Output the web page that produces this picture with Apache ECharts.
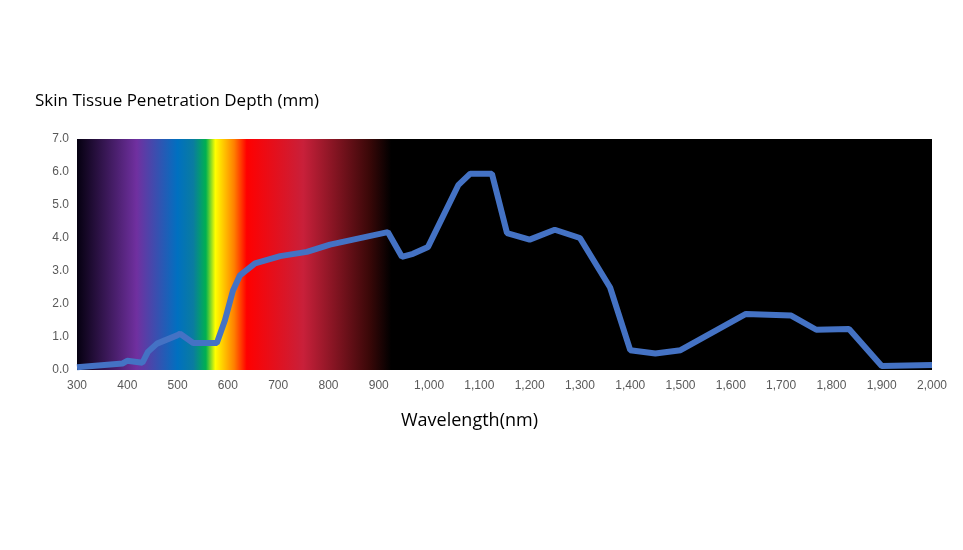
<!DOCTYPE html>
<html><head><meta charset="utf-8">
<script src="https://cdn.jsdelivr.net/npm/echarts@6/dist/echarts.min.js"></script>
<style>html,body{margin:0;padding:0;background:#fff}#c{width:963px;height:550px}</style>
</head><body><div id="c"></div>
<script>
const wavelengths = [300,391,400,430,441,459,499,505,531,578,594,610,624,654,704,757,803,918,946,968,998,1058,1082,1125,1155,1200,1250,1300,1360,1400,1450,1500,1630,1720,1770,1835,1900,2000];
const depths = [0.08,0.2,0.28,0.22,0.55,0.8,1.05,1.1,0.82,0.82,1.5,2.4,2.87,3.23,3.45,3.58,3.8,4.18,3.43,3.52,3.73,5.6,5.95,5.95,4.15,3.95,4.25,4.0,2.5,0.6,0.5,0.6,1.7,1.65,1.22,1.24,0.12,0.15];
const yTicks = [0,1,2,3,4,5,6,7];
const chart = echarts.init(document.getElementById('c'));
chart.setOption({
  animation:false,
  grid:{left:77,right:31,top:139,bottom:180,show:true,backgroundColor:'#000',borderWidth:0},
  graphic:[
    {type:'text',left:35,top:93,style:{text:'Skin Tissue Penetration Depth (mm)',fontSize:17,fill:'#000',fontFamily:'Open Sans'}},
    {type:'text',left:401,top:412,style:{text:'Wavelength(nm)',fontSize:18,fill:'#000',fontFamily:'Open Sans'}}
  ],
  xAxis:{type:'value',min:300,max:2000,interval:100,axisLine:{show:false},axisTick:{show:false},splitLine:{show:false},
    axisLabel:{color:'#595959',fontSize:12,margin:10}},
  yAxis:{type:'value',min:0,max:7,interval:1,axisLine:{show:false},axisTick:{show:false},splitLine:{show:false},
    axisLabel:{color:'#595959',fontSize:12,formatter:v=>v.toFixed(1)}},
  series:[{type:'line',data:wavelengths.map((w,i)=>[w,depths[i]]),symbol:'none',
    lineStyle:{color:'#4472C4',width:6},
    markArea:{silent:true,data:[[{xAxis:300,yAxis:0},{xAxis:925,yAxis:7}]],
      itemStyle:{color:new echarts.graphic.LinearGradient(0,0,1,0,[
        {offset:0,color:'#050010'},{offset:0.19,color:'#7030A0'},{offset:0.32,color:'#0070C0'},
        {offset:0.37,color:'#0A7CA0'},{offset:0.41,color:'#00B050'},{offset:0.44,color:'#FFFF00'},
        {offset:0.50,color:'#FF8000'},{offset:0.54,color:'#FF0000'},{offset:0.72,color:'#C8203A'},
        {offset:0.93,color:'#3a0808'},{offset:1,color:'#000'}])}}
  }]
});
</script></body></html>
